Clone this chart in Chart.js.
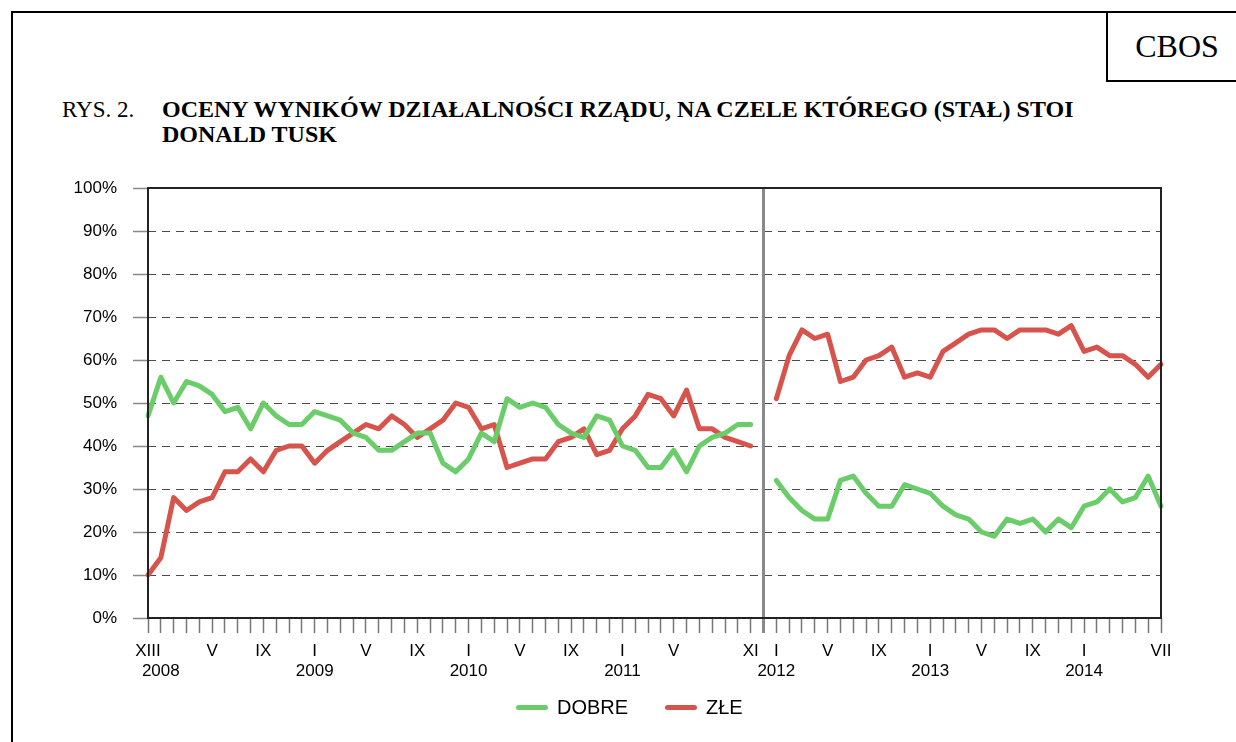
<!DOCTYPE html>
<html>
<head>
<meta charset="utf-8">
<script src="https://cdn.jsdelivr.net/npm/chart.js@4.4.1/dist/chart.umd.min.js"></script>
<style>
  body { margin: 0; background: #fff; }
  #wrap { position: relative; width: 1236px; height: 742px; overflow: hidden; }
  #frame { position: absolute; left: 11px; top: 11px; width: 1400px; height: 900px; border-left: 2px solid #000; border-top: 2px solid #000; }
  #cbos { position: absolute; left: 1106px; top: 11px; width: 122px; padding-left: 8px; height: 67px; border: 2px solid #000; border-right: none;
          font: 32px 'Liberation Serif', 'Times New Roman', serif; line-height: 67px; text-align: center; color: #000; }
  .title { position: absolute; top: 97px; font: 23px/25px 'Liberation Serif', 'Times New Roman', serif; color: #000; }
  #rys { left: 62px; }
  #head { left: 162px; font-weight: bold; font-size: 24px; }
  #myChart { position: absolute; left: 0; top: 0; }
  .leg { position: absolute; top: 695px; font: 20px 'Liberation Sans', Arial, sans-serif; color: #000; line-height: 24px; }
  .sw { position: absolute; top: 705px; width: 32px; height: 5px; border-radius: 3px; }
</style>
</head>
<body>
<div id="wrap">
  <div id="frame"></div>
  <div id="cbos">CBOS</div>
  <div class="title" id="rys">RYS. 2.</div>
  <div class="title" id="head">OCENY WYNIKÓW DZIAŁALNOŚCI RZĄDU, NA CZELE KTÓREGO (STAŁ) STOI<br>DONALD TUSK</div>
  <canvas id="myChart" width="1236" height="742"></canvas>
  <div class="sw" style="left:516px; background:#6acd6a"></div>
  <div class="leg" style="left:557px">DOBRE</div>
  <div class="sw" style="left:665px; background:#d6544b"></div>
  <div class="leg" style="left:706px">ZŁE</div>
</div>
<script>
// months XII 2007 - VII 2014, XII 2011 has no survey (break)
const monthLabels = [
  'XIII',
  '', '', '', '', 'V', '', '', '', 'IX', '', '', '',      // 2008
  'I', '', '', '', 'V', '', '', '', 'IX', '', '', '',     // 2009
  'I', '', '', '', 'V', '', '', '', 'IX', '', '', '',     // 2010
  'I', '', '', '', 'V', '', '', '', '', '', 'XI', '',     // 2011
  'I', '', '', '', 'V', '', '', '', 'IX', '', '', '',     // 2012
  'I', '', '', '', 'V', '', '', '', 'IX', '', '', '',     // 2013
  'I', '', '', '', '', '', 'VII'                          // 2014
];
const years = ['2008', '2009', '2010', '2011', '2012', '2013', '2014'];
const breakIndex = 48;

const dobre = [
  47, 56, 50, 55, 54, 52, 48, 49, 44, 50, 47, 45, 45,
  48, 47, 46, 43, 42, 39, 39, 41, 43, 43, 36, 34,
  37, 43, 41, 51, 49, 50, 49, 45, 43, 42, 47, 46,
  40, 39, 35, 35, 39, 34, 40, 42, 43, 45, 45, null,
  32, 28, 25, 23, 23, 32, 33, 29, 26, 26, 31, 30,
  29, 26, 24, 23, 20, 19, 23, 22, 23, 20, 23, 21,
  26, 27, 30, 27, 28, 33, 26
];
const zle = [
  10, 14, 28, 25, 27, 28, 34, 34, 37, 34, 39, 40, 40,
  36, 39, 41, 43, 45, 44, 47, 45, 42, 44, 46, 50,
  49, 44, 45, 35, 36, 37, 37, 41, 42, 44, 38, 39,
  44, 47, 52, 51, 47, 53, 44, 44, 42, 41, 40, null,
  51, 61, 67, 65, 66, 55, 56, 60, 61, 63, 56, 57,
  56, 62, 64, 66, 67, 67, 65, 67, 67, 67, 66, 68,
  62, 63, 61, 61, 59, 56, 59
];

// two-line tick labels: month on top, year under January
const labels = monthLabels.map((m, i) => {
  const y = (i - 1) % 12 === 0 ? years[(i - 1) / 12] : '';
  return [m, y];
});

const frameBox = {
  id: 'frameBox',
  beforeDatasetsDraw(chart) {
    const { ctx, chartArea: { top, bottom }, scales: { x } } = chart;
    ctx.save();
    // separator at XII 2011
    const sx = x.getPixelForValue(breakIndex);
    ctx.strokeStyle = '#8a8a8a';
    ctx.lineWidth = 3;
    ctx.beginPath();
    ctx.moveTo(sx, top);
    ctx.lineTo(sx, bottom + 15);
    ctx.stroke();
    ctx.restore();
  },
  afterDraw(chart) {
    const { ctx, chartArea: { top, bottom, left, right } } = chart;
    ctx.save();
    ctx.strokeStyle = '#222';
    ctx.lineWidth = 2;
    ctx.strokeRect(left, top, right - left, bottom - top);
    ctx.restore();
  }
};

const config = {
  type: 'line',
  data: {
    labels,
    datasets: [{
      label: 'DOBRE',
      data: dobre,
      borderColor: '#6acd6a',
      borderWidth: 5,
      pointRadius: 0,
      tension: 0,
      borderJoinStyle: 'round',
      borderCapStyle: 'round',
      spanGaps: false
    }, {
      label: 'ZŁE',
      data: zle,
      borderColor: '#d6544b',
      borderWidth: 5,
      pointRadius: 0,
      tension: 0,
      borderJoinStyle: 'round',
      borderCapStyle: 'round',
      spanGaps: false
    }]
  },
  options: {
    responsive: false,
    animation: false,
    layout: { padding: { left: 0, top: 188, right: 75, bottom: 64 } },
    plugins: {
      legend: { display: false },
      tooltip: { enabled: false }
    },
    scales: {
      x: {
        offset: false,
        afterFit(scale) { scale.height = 60; },
        grid: {
          drawOnChartArea: false,
          drawTicks: true,
          tickLength: 15,
          tickColor: '#777',
          tickWidth: 1.5
        },
        border: { display: false },
        ticks: {
          autoSkip: false,
          maxRotation: 0,
          minRotation: 0,
          padding: 8,
          color: '#000',
          font: { family: "'Liberation Sans', Arial, sans-serif", size: 17 }
        }
      },
      y: {
        min: 0,
        max: 100,
        afterFit(scale) { scale.width = 148; },
        grid: {
          color: '#4a4a4a',
          lineWidth: 1,
          tickLength: 15,
          tickColor: '#888',
          tickBorderDash: [],
          tickWidth: 1.5
        },
        border: { display: false, dash: [8, 6] },
        ticks: {
          stepSize: 10,
          padding: 16,
          color: '#000',
          font: { family: "'Liberation Sans', Arial, sans-serif", size: 17 },
          callback: v => v + '%'
        }
      }
    }
  },
  plugins: [frameBox]
};

const myChart = new Chart(document.getElementById('myChart'), config);
</script>
</body>
</html>
